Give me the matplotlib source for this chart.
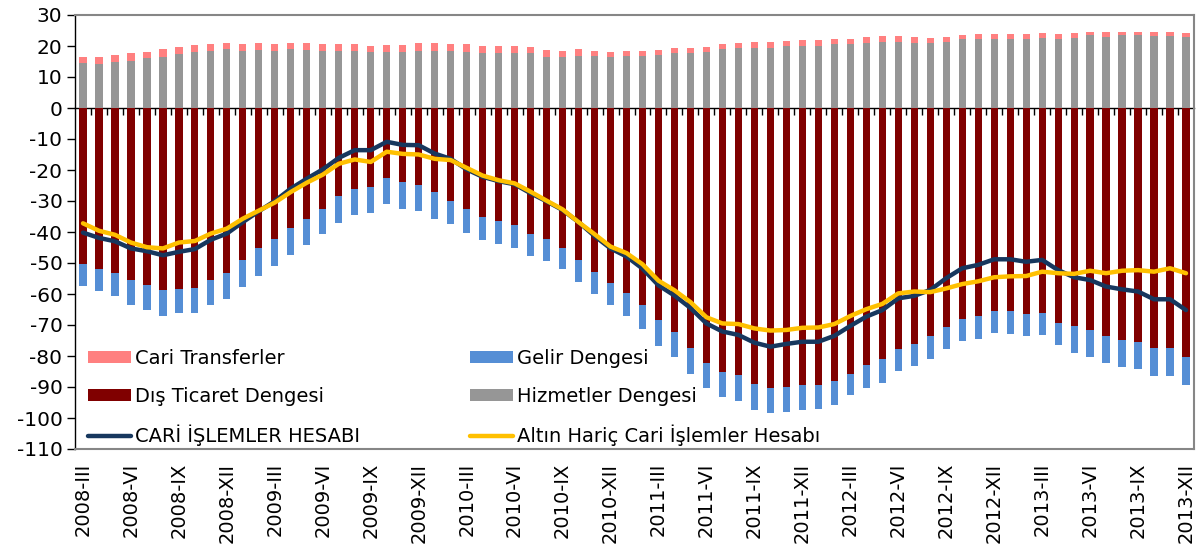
import matplotlib
matplotlib.use("Agg")
import matplotlib.pyplot as plt
import numpy as np

ROMAN = ["I", "II", "III", "IV", "V", "VI", "VII", "VIII", "IX", "X", "XI", "XII"]
# monthly periods, 2008-III .. 2013-XII
PERIODS = [f"{y}-{m}" for y in range(2008, 2014) for m in ROMAN][2:]

# billion USD, 12-month cumulative
SERVICES = [
    14.5, 14.1, 14.8, 15.3, 16.0, 16.6, 17.3, 18.0, 18.4, 18.9,
    18.5, 18.6, 18.5, 18.9, 18.6, 18.5, 18.5, 18.5, 18.2, 18.2,
    18.2, 18.5, 18.5, 18.4, 18.2, 17.9, 17.8, 17.9, 17.6, 16.6,
    16.6, 16.9, 16.7, 16.5, 16.7, 16.9, 17.0, 17.6, 17.9, 18.2,
    18.9, 19.2, 19.5, 19.5, 19.9, 20.1, 20.1, 20.5, 20.5, 20.9,
    21.4, 21.4, 21.0, 21.0, 21.4, 22.1, 22.2, 22.4, 22.4, 22.4,
    22.7, 22.4, 22.7, 23.4, 23.0, 23.4, 23.4, 23.1, 23.1, 22.9,
]
TRANSFERS = [
    2.1, 2.5, 2.3, 2.4, 2.2, 2.4, 2.3, 2.4, 2.4, 2.1,
    2.3, 2.4, 2.3, 2.1, 2.3, 2.3, 2.3, 2.3, 1.9, 2.0,
    2.2, 2.5, 2.5, 2.4, 2.5, 2.2, 2.2, 2.1, 2.0, 2.2,
    1.9, 2.1, 1.8, 1.6, 1.7, 1.6, 1.8, 1.6, 1.6, 1.6,
    1.7, 1.8, 1.7, 1.7, 1.6, 1.8, 1.9, 1.8, 1.8, 1.9,
    1.9, 1.9, 1.8, 1.7, 1.6, 1.6, 1.7, 1.6, 1.6, 1.5,
    1.5, 1.4, 1.4, 1.2, 1.4, 1.2, 1.2, 1.5, 1.5, 1.3,
]
TRADE = [
    -50.3, -51.9, -53.2, -55.5, -57.1, -58.7, -58.3, -58.1, -55.5, -53.1,
    -49.0, -45.2, -42.3, -38.7, -35.8, -32.5, -28.4, -26.0, -25.4, -22.7,
    -23.9, -24.9, -27.1, -30.0, -32.6, -35.1, -36.3, -37.9, -40.5, -42.1,
    -45.1, -48.9, -52.8, -56.6, -59.8, -63.7, -68.4, -72.3, -77.4, -82.4,
    -85.0, -86.1, -88.9, -90.3, -90.0, -89.5, -89.2, -88.0, -85.7, -82.9,
    -81.0, -77.6, -76.0, -73.5, -70.5, -68.0, -67.1, -65.6, -65.6, -66.5,
    -66.1, -69.2, -70.3, -71.6, -73.5, -74.8, -75.5, -77.4, -77.4, -80.2,
]
INCOME = [
    -7.1, -7.2, -7.6, -8.1, -8.1, -8.4, -7.9, -8.0, -8.0, -8.4,
    -8.6, -9.0, -8.6, -8.7, -8.3, -8.2, -8.6, -8.4, -8.4, -8.4,
    -8.7, -8.2, -8.6, -7.4, -7.7, -7.6, -7.6, -7.2, -7.1, -7.2,
    -6.7, -7.1, -7.1, -7.1, -7.2, -7.5, -8.3, -8.1, -8.3, -8.0,
    -8.1, -8.4, -8.5, -8.2, -8.1, -7.9, -8.0, -7.9, -7.0, -7.5,
    -7.6, -7.2, -7.2, -7.4, -7.1, -7.3, -7.3, -7.1, -7.2, -7.0,
    -7.2, -7.1, -8.6, -8.6, -8.9, -8.7, -8.8, -9.1, -9.1, -9.3,
]
CURRENT_ACCOUNT = [
    -40.2, -41.9, -43.0, -45.3, -46.2, -47.5, -46.4, -45.5, -42.5, -40.5,
    -36.8, -33.3, -30.0, -26.0, -22.8, -19.8, -16.1, -13.6, -13.6, -10.9,
    -11.9, -12.0, -14.7, -16.4, -19.8, -22.2, -23.6, -24.6, -27.5, -30.1,
    -32.9, -36.8, -41.3, -45.3, -47.9, -51.8, -57.2, -60.5, -64.5, -69.5,
    -72.1, -73.2, -75.7, -77.0, -76.1, -75.4, -75.4, -73.5, -70.3, -67.3,
    -65.2, -61.4, -60.6, -58.7, -54.9, -51.7, -50.6, -48.8, -48.8, -49.6,
    -49.0, -52.3, -54.6, -55.5, -57.6, -58.5, -59.2, -61.7, -61.7, -65.2,
]
EX_GOLD = [
    -37.2, -39.6, -40.9, -43.4, -44.9, -45.3, -43.4, -42.9, -40.5, -38.9,
    -35.7, -33.1, -30.5, -27.1, -24.1, -21.5, -18.0, -16.6, -17.4, -14.1,
    -14.8, -15.0, -16.4, -16.8, -19.3, -21.8, -23.3, -24.3, -27.0, -29.9,
    -32.7, -36.8, -40.7, -44.7, -46.8, -50.4, -55.7, -58.8, -62.6, -67.5,
    -69.5, -69.7, -71.1, -71.8, -71.6, -70.9, -70.8, -69.7, -67.1, -64.9,
    -63.2, -59.8, -59.2, -59.4, -58.2, -56.8, -55.9, -54.6, -54.3, -54.2,
    -52.8, -53.3, -53.5, -52.5, -53.3, -52.5, -52.3, -52.8, -51.7, -53.3,
]

plt.rcParams["font.family"] = "DejaVu Sans"
plt.rcParams["axes.unicode_minus"] = False

fig = plt.figure(figsize=(11.98, 5.47), dpi=100)
ax = fig.add_axes([75 / 1198, 1 - 449 / 547, 1119 / 1198, 434 / 547])

x = np.arange(len(PERIODS))
w = 0.45
h_serv = ax.bar(x, SERVICES, w, color="#969696")
h_tran = ax.bar(x, TRANSFERS, w, bottom=SERVICES, color="#FF8080")
h_trade = ax.bar(x, TRADE, w, color="#800000")
h_inc = ax.bar(x, INCOME, w, bottom=TRADE, color="#558ED5")
(h_ca,) = ax.plot(x, CURRENT_ACCOUNT, color="#17375E", lw=3.2, solid_capstyle="round")
(h_gold,) = ax.plot(x, EX_GOLD, color="#FFC000", lw=3.2, solid_capstyle="round")

ax.set_xlim(-0.5, len(PERIODS) - 0.5)
ax.set_ylim(-110, 30)
ax.set_yticks(np.arange(-110, 31, 10))
ax.tick_params(axis="y", direction="out", length=6, width=1, labelsize=14.5, pad=3)
ax.set_xticks(x[::3])
ax.set_xticklabels(PERIODS[::3], rotation=90)
ax.tick_params(axis="x", length=0, labelsize=14, pad=10)

for side in ["top", "right", "bottom"]:
    ax.spines[side].set_color("#868686")
    ax.spines[side].set_linewidth(1.5)
ax.spines["left"].set_color("black")
ax.spines["left"].set_linewidth(1)

# zero line with category boundary ticks
zero = ax.secondary_xaxis(110 / 140)
zero.set_xticks(np.arange(0.5, len(PERIODS) - 1, 1))
zero.tick_params(axis="x", direction="in", length=5, width=1, color="black",
                 labeltop=False, labelbottom=False)
for s in zero.spines.values():
    s.set_color("black")
    s.set_linewidth(1)

leg_kw = dict(loc="upper left", frameon=False, fontsize=14, handlelength=2.2,
              handleheight=0.6, handletextpad=0.2, labelspacing=0.98,
              borderpad=0, borderaxespad=0)
leg1 = ax.legend([h_tran, h_trade, h_ca],
                 ["Cari Transferler", "Dış Ticaret Dengesi", "CARİ İŞLEMLER HESABI"],
                 bbox_to_anchor=(0.0116, 0.231), **leg_kw)
ax.add_artist(leg1)
ax.legend([h_inc, h_serv, h_gold],
          ["Gelir Dengesi", "Hizmetler Dengesi", "Altın Hariç Cari İşlemler Hesabı"],
          bbox_to_anchor=(0.353, 0.231), **leg_kw)

fig.savefig("out.png", dpi=100)
